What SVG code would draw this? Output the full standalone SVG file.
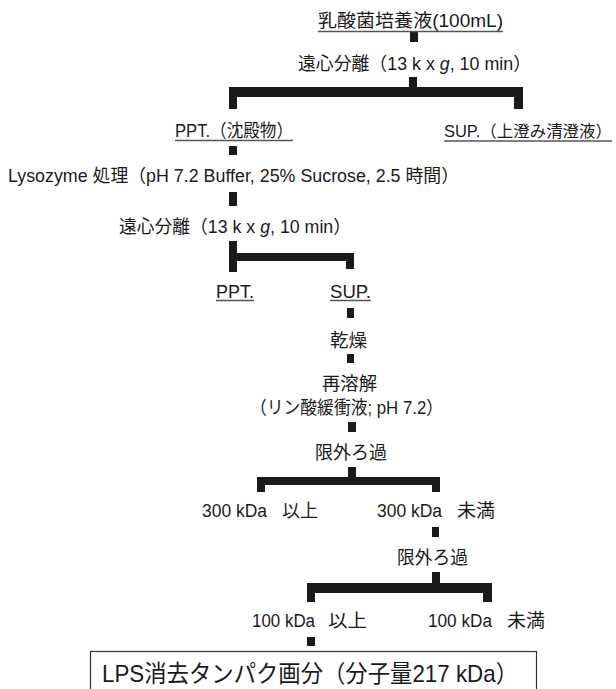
<svg xmlns="http://www.w3.org/2000/svg" width="616" height="689" viewBox="0 0 616 689">
<style>
text{font-family:"Liberation Sans","Noto Sans CJK JP",sans-serif;font-size:18px;fill:#1a1a1a}
.ul{stroke:#555;stroke-width:1.4}
.c{fill:#1a1a1a}
.box{fill:#fff;stroke:#333;stroke-width:1.2}
.big{font-size:24px}
.sm{font-size:16.4px}
</style>
<rect width="616" height="689" fill="#fff"/>
<g id="connectors" class="c">
<rect x="410" y="32" width="8" height="10"/>
<rect x="409" y="77" width="8" height="12"/>
<rect x="229" y="87" width="294" height="10"/>
<rect x="229" y="87" width="8" height="22"/>
<rect x="514" y="87" width="9" height="22"/>
<rect x="229" y="146" width="8" height="9"/>
<rect x="229" y="192" width="8" height="14"/>
<rect x="229" y="241" width="8" height="31"/>
<rect x="229" y="253" width="125" height="8"/>
<rect x="346" y="253" width="8" height="16"/>
<rect x="347" y="308" width="7" height="10"/>
<rect x="347" y="354" width="7" height="9"/>
<rect x="348" y="422" width="8" height="10"/>
<rect x="348" y="467" width="8" height="12"/>
<rect x="257" y="477" width="183" height="8"/>
<rect x="257" y="477" width="8" height="15"/>
<rect x="432" y="477" width="8" height="15"/>
<rect x="432" y="527" width="7" height="10"/>
<rect x="432" y="572" width="8" height="12"/>
<rect x="307" y="583" width="185" height="10"/>
<rect x="307" y="583" width="8" height="19"/>
<rect x="483" y="583" width="9" height="19"/>
<rect x="307" y="637" width="8" height="9"/>
</g>
<g id="n-culture">
<text x="318" y="26.5" textLength="185" lengthAdjust="spacingAndGlyphs">乳酸菌培養液(100mL)</text>
<line class="ul" x1="318" y1="31.5" x2="503" y2="31.5"/>
</g>
<g id="n-centrifuge1">
<text x="298" y="69.5" textLength="233" lengthAdjust="spacingAndGlyphs">遠心分離（13 k x <tspan font-style="italic">g</tspan>, 10 min）</text>
</g>
<g id="n-ppt1">
<text x="175" y="137" textLength="118" lengthAdjust="spacingAndGlyphs">PPT.（沈殿物）</text>
<line class="ul" x1="175" y1="140.5" x2="293" y2="140.5"/>
</g>
<g id="n-sup1">
<text class="sm" x="444" y="137" textLength="168" lengthAdjust="spacingAndGlyphs">SUP.（上澄み清澄液）</text>
<line class="ul" x1="444" y1="141" x2="612" y2="141"/>
</g>
<g id="n-lysozyme">
<text x="8" y="181.5" textLength="451" lengthAdjust="spacingAndGlyphs">Lysozyme 処理（pH 7.2 Buffer, 25% Sucrose, 2.5 時間）</text>
</g>
<g id="n-centrifuge2">
<text x="119" y="232.5" textLength="232" lengthAdjust="spacingAndGlyphs">遠心分離（13 k x <tspan font-style="italic">g</tspan>, 10 min）</text>
</g>
<g id="n-ppt2">
<text x="216" y="298" textLength="38" lengthAdjust="spacingAndGlyphs">PPT.</text>
<line class="ul" x1="216" y1="300.5" x2="254" y2="300.5"/>
</g>
<g id="n-sup2">
<text x="330" y="298" textLength="41" lengthAdjust="spacingAndGlyphs">SUP.</text>
<line class="ul" x1="330" y1="300.5" x2="371" y2="300.5"/>
</g>
<g id="n-dry">
<text x="330" y="346.5" textLength="37" lengthAdjust="spacingAndGlyphs">乾燥</text>
</g>
<g id="n-redissolve">
<text x="322" y="389.5" textLength="55" lengthAdjust="spacingAndGlyphs">再溶解</text>
<text x="250" y="413.5" textLength="193" lengthAdjust="spacingAndGlyphs">（リン酸緩衝液; pH 7.2）</text>
</g>
<g id="n-uf1">
<text x="315" y="458.5" textLength="72" lengthAdjust="spacingAndGlyphs">限外ろ過</text>
</g>
<g id="n-300up">
<text x="202" y="516.5" textLength="65" lengthAdjust="spacingAndGlyphs">300 kDa</text>
<text x="282" y="516.5" textLength="36" lengthAdjust="spacingAndGlyphs">以上</text>
</g>
<g id="n-300down">
<text x="377" y="516.5" textLength="65" lengthAdjust="spacingAndGlyphs">300 kDa</text>
<text x="457" y="516.5" textLength="38" lengthAdjust="spacingAndGlyphs">未満</text>
</g>
<g id="n-uf2">
<text x="397" y="563.5" textLength="71" lengthAdjust="spacingAndGlyphs">限外ろ過</text>
</g>
<g id="n-100up">
<text x="252" y="626.5" textLength="63" lengthAdjust="spacingAndGlyphs">100 kDa</text>
<text x="328" y="626.5" textLength="39" lengthAdjust="spacingAndGlyphs">以上</text>
</g>
<g id="n-100down">
<text x="428" y="626.5" textLength="64" lengthAdjust="spacingAndGlyphs">100 kDa</text>
<text x="507" y="626.5" textLength="38" lengthAdjust="spacingAndGlyphs">未満</text>
</g>
<g id="n-result">
<rect class="box" x="90.5" y="651.5" width="446" height="50"/>
<text class="big" x="102" y="681.5" textLength="416" lengthAdjust="spacingAndGlyphs">LPS消去タンパク画分（分子量217 kDa）</text>
</g>
</svg>
